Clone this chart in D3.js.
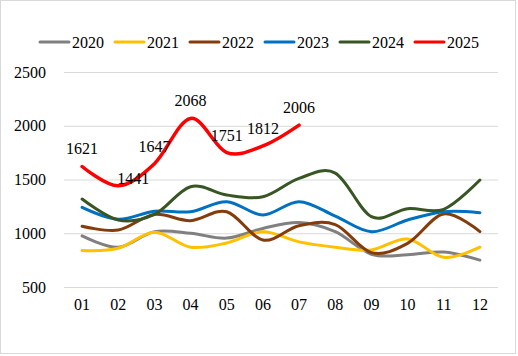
<!DOCTYPE html>
<html><head><meta charset="utf-8">
<script src="https://cdn.jsdelivr.net/npm/d3@7/dist/d3.min.js"></script>
<style>body{margin:0;background:#fff}svg{display:block}</style>
</head><body>
<svg id="c" width="518" height="356"></svg>
<script>
const months = ["01","02","03","04","05","06","07","08","09","10","11","12"];
const years = ["2020","2021","2022","2023","2024","2025"];
const v2020 = [975, 870, 1015, 1000, 955, 1045, 1100, 1015, 805, 800, 825, 750];
const v2021 = [840, 860, 1010, 870, 910, 1015, 920, 870, 845, 947, 776, 870];
const v2022 = [1065, 1030, 1175, 1117, 1200, 937, 1070, 1080, 820, 906, 1179, 1015];
const v2023 = [1241, 1130, 1205, 1200, 1294, 1170, 1294, 1160, 1015, 1123, 1200, 1191];
const v2024 = [1318, 1123, 1175, 1433, 1356, 1340, 1511, 1560, 1154, 1228, 1223, 1495];
const v2025 = [1621, 1441, 1647, 2068, 1751, 1812, 2006];
const yTicks = [500, 1000, 1500, 2000, 2500];
const colors = ["#808080", "#FFC000", "#843C0C", "#0070C0", "#375623", "#FF0000"];
const seriesValues = [v2020, v2021, v2022, v2023, v2024, v2025];

const svg = d3.select("#c");
svg.append("rect").attr("x",0.5).attr("y",0.5).attr("width",515).attr("height",353)
  .attr("fill","#fff").attr("stroke","#d9d9d9");

const x = d3.scaleBand().domain(months).range([64, 498]);
const y = d3.scaleLinear().domain([500, 2500]).range([287, 72]);
const font = "'Liberation Serif','Times New Roman',serif";

const yAxis = d3.axisLeft(y).tickValues(yTicks).tickFormat(d3.format("d")).tickSize(-(498-64)).tickPadding(18);
const gy = svg.append("g").attr("transform","translate(64,0)").call(yAxis);
gy.select(".domain").remove();
gy.selectAll(".tick line").attr("stroke","#d9d9d9").attr("stroke-width",1);
gy.selectAll(".tick text").attr("font-family",font).attr("font-size",16).attr("fill","#000");

const xAxis = d3.axisBottom(x).tickSize(0).tickPadding(12);
const gx = svg.append("g").attr("transform","translate(0,287)").call(xAxis);
gx.select(".domain").remove();
gx.selectAll(".tick text").attr("font-family",font).attr("font-size",16).attr("fill","#000");

const line = d3.line()
  .x((d,i)=>x(months[i]) + x.bandwidth()/2)
  .y(d=>y(d))
  .curve(d3.curveCatmullRom.alpha(0));

seriesValues.forEach((vals,k)=>{
  svg.append("path").datum(vals).attr("d", line)
    .attr("fill","none").attr("stroke",colors[k])
    .attr("stroke-width", k===5 ? 3.5 : 3).attr("stroke-linecap","round").attr("stroke-linejoin","round");
});

svg.append("g").selectAll("text").data(v2025).join("text")
  .attr("x",(d,i)=>x(months[i]) + x.bandwidth()/2 + (i===1 ? 15 : 0))
  .attr("y",(d,i)=>y(d) - (i===1 ? 2 : 12))
  .attr("text-anchor","middle")
  .attr("font-family",font).attr("font-size",16).attr("fill","#000")
  .text(d=>d);

const lg = svg.append("g");
years.forEach((yr,k)=>{
  const lx = 40 + k*75;
  lg.append("line").attr("x1",lx).attr("x2",lx+29).attr("y1",42).attr("y2",42)
    .attr("stroke",colors[k]).attr("stroke-width",3).attr("stroke-linecap","round");
  lg.append("text").attr("x",lx+32).attr("y",42).attr("dy","0.35em")
    .attr("font-family",font).attr("font-size",16).attr("fill","#000").text(yr);
});
</script>
</body></html>
